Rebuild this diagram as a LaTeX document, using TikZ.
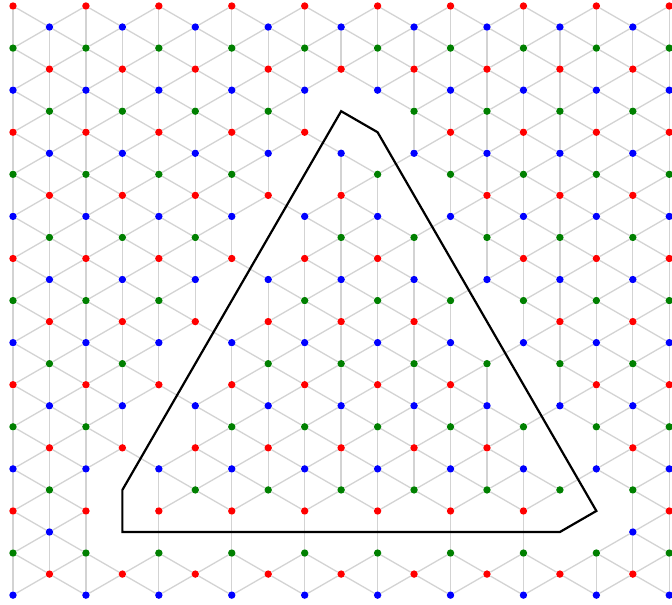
\documentclass[tikz,border=0pt]{standalone}
\usepackage{tikz}
\definecolor{latred}{HTML}{FF0000}
\definecolor{latgreen}{HTML}{008000}
\definecolor{latblue}{HTML}{0000FF}
\definecolor{latgray}{HTML}{D3D3D3}

\begin{document}
\begin{tikzpicture}[
    x=36.46pt, y=-21.04pt,
    declare function={
      gone(\a,\b)=or(or(and(\b==3*\a-24, and(\b>=6, \b<=24)),
                        and(\b==32-3*\a, and(\b>=5, \b<=23))),
                     and(\b==25, and(\a>=3, \a<=15)));
      keep(\a,\b)=and(and(and(\a>=0, \a<=18), and(\b>=0, \b<=28)),
                      gone(\a,\b)==0);
    },
    site/.style={circle, inner sep=0pt, minimum size=7.4pt},
    bond/.style={draw=latgray, line width=1.3pt},
    boundary/.style={draw=black, line width=2.2pt, line join=miter},
  ]
  \useasboundingbox (-0.3566,-0.2852) rectangle (18.0746,28.4696);

  % lattice sites, coloured by row
  \foreach \row in {0,...,28} {
    \pgfmathtruncatemacro\first{mod(\row,2)}
    \pgfmathtruncatemacro\second{\first+2}
    \pgfmathtruncatemacro\tint{mod(\row,3)}
    \ifcase\tint \def\dotcol{latred}\or \def\dotcol{latblue}\or \def\dotcol{latgreen}\fi
    \foreach \col in {\first,\second,...,18} {
      \pgfmathtruncatemacro\here{keep(\col,\row)}
      \ifnum\here=1
        \node[site, fill=\dotcol] (s-\col-\row) at (\col,\row) {};
      \fi
    }
  }

  % bonds to the neighbours below and to the right
  \foreach \row in {0,...,28} {
    \pgfmathtruncatemacro\first{mod(\row,2)}
    \pgfmathtruncatemacro\second{\first+2}
    \foreach \col in {\first,\second,...,18} {
      \pgfmathtruncatemacro\here{keep(\col,\row)}
      \ifnum\here=1
        \foreach \dc/\dr in {0/2, 1/1, 1/-1} {
          \pgfmathtruncatemacro\nc{\col+\dc}
          \pgfmathtruncatemacro\nr{\row+\dr}
          \pgfmathtruncatemacro\there{keep(\nc,\nr)}
          \ifnum\there=1
            \draw[bond] (s-\col-\row) -- (s-\nc-\nr);
          \fi
        }
      \fi
    }
  }

  % cut region
  \coordinate (p1) at (9,5);
  \coordinate (p2) at (10,6);
  \coordinate (p3) at (16,24);
  \coordinate (p4) at (15,25);
  \coordinate (p5) at (3,25);
  \coordinate (p6) at (3,23);
  \draw[boundary] (p1) -- (p2) -- (p3) -- (p4) -- (p5) -- (p6) -- cycle;
\end{tikzpicture}
\end{document}
